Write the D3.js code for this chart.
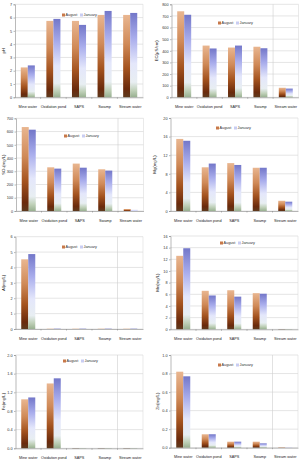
<!DOCTYPE html>
<html><head><meta charset="utf-8">
<script src="https://cdn.jsdelivr.net/npm/d3@7"></script>
<style>body{margin:0;background:#fff}svg{display:block}text{font-family:"Liberation Sans",Arial,sans-serif}</style>
</head><body>
<script>
const categories = ["Mine water","Oxidation pond","SAPS","Swamp","Stream water"];
const seriesNames = ["August","January"];

const phAugust  = [2.25, 5.75, 5.75, 6.2, 6.2];
const phJanuary = [2.4, 5.9, 5.45, 6.5, 6.35];
const phTicks   = [0,1,2,3,4,5,6,7];

const ecAugust  = [740, 445, 428, 435, 82];
const ecJanuary = [710, 420, 445, 422, 75];
const ecTicks   = [0,100,200,300,400,500,600,700,800];

const so4August  = [634, 330, 358, 315, 15];
const so4January = [614, 320, 327, 305, 8];
const so4Ticks   = [0,100,200,300,400,500,600,700];

const mgAugust  = [15.5, 9.4, 10.3, 9.3, 2.2];
const mgJanuary = [15.1, 10.2, 9.9, 9.3, 2.0];
const mgTicks   = [0,4,8,12,16,20];

const alAugust  = [4.53, 0.02, 0.02, 0.02, 0.02];
const alJanuary = [4.87, 0.02, 0.02, 0.02, 0.02];
const alTicks   = [0,1,2,3,4,5,6];

const mnAugust  = [12.6, 6.6, 6.7, 6.2, 0.05];
const mnJanuary = [13.9, 5.8, 5.6, 6.1, 0.05];
const mnTicks   = [0,2,4,6,8,10,12,14,16];

const feAugust  = [1.05, 1.39, 0.005, 0.005, 0.005];
const feJanuary = [1.09, 1.5, 0.005, 0.005, 0.005];
const feTicks   = [0,0.4,0.8,1.2,1.6,2.0];

const znAugust  = [0.82, 0.145, 0.065, 0.065, 0.004];
const znJanuary = [0.77, 0.145, 0.065, 0.047, 0.004];
const znTicks   = [0,0.2,0.4,0.6,0.8,1.0];

const panels = [
  {title:"pH",        aug:phAugust,  jan:phJanuary,  ticks:phTicks,  fmt:d3.format("d"),   box:[15,143,4.3,97.3],     tx:5,   legend:[62,15],   div:false},
  {title:"EC(µS/cm)", aug:ecAugust,  jan:ecJanuary,  ticks:ecTicks,  fmt:d3.format("d"),   box:[171.5,298.5,4.3,97.3], tx:158, legend:[218,23], div:true},
  {title:"SO\u2084(mg/L)", aug:so4August, jan:so4January, ticks:so4Ticks, fmt:d3.format("d"), box:[16,143.5,118.3,211], tx:5, legend:[64,136], div:true},
  {title:"Mg(mg/L)",  aug:mgAugust,  jan:mgJanuary,  ticks:mgTicks,  fmt:d3.format("d"),   box:[170.5,298,118,211],   tx:156, legend:[216,128], div:false},
  {title:"Al(mg/L)",  aug:alAugust,  jan:alJanuary,  ticks:alTicks,  fmt:d3.format("d"),   box:[15.5,143,236.7,329],  tx:5,   legend:[62,247],  div:true},
  {title:"Mn(mg/L)",  aug:mnAugust,  jan:mnJanuary,  ticks:mnTicks,  fmt:d3.format("d"),   box:[170.5,298,236,329.3], tx:159, legend:[220,243], div:false},
  {title:"Fe(mg/L)",  aug:feAugust,  jan:feJanuary,  ticks:feTicks,  fmt:d3.format(".1f"), box:[15.5,143,355,448.3],  tx:5,   legend:[63,361],  div:true},
  {title:"Zn(mg/L)",  aug:znAugust,  jan:znJanuary,  ticks:znTicks,  fmt:d3.format(".1f"), box:[170.5,298,355,447.7], tx:159, legend:[218,365], div:true}
];

const svg = d3.select("body").append("svg").attr("width",301).attr("height",462);
const defs = svg.append("defs");
const gA = defs.append("linearGradient").attr("id","gAug").attr("x1",0).attr("y1",0).attr("x2",0).attr("y2",1);
[[0,"#e9b690"],[0.35,"#d08a58"],[0.65,"#a4531f"],[0.9,"#6a2a0c"],[1,"#5e3a1e"]].forEach(s=>gA.append("stop").attr("offset",s[0]).attr("stop-color",s[1]));
const gJ = defs.append("linearGradient").attr("id","gJan").attr("x1",0).attr("y1",0).attr("x2",0).attr("y2",1);
[[0,"#7377c9"],[0.3,"#a9adec"],[0.6,"#e4e7fb"],[0.82,"#e8eef2"],[0.92,"#bfd0b8"],[1,"#98b090"]].forEach(s=>gJ.append("stop").attr("offset",s[0]).attr("stop-color",s[1]));

panels.forEach(p=>{
  const [l,r,t,b] = p.box;
  const g = svg.append("g");
  const x = d3.scaleBand().domain(categories).range([l,r]).paddingInner(0.45).paddingOuter(0.225);
  const xs = d3.scaleBand().domain(seriesNames).range([0,x.bandwidth()]);
  const y = d3.scaleLinear().domain([p.ticks[0], p.ticks[p.ticks.length-1]]).range([b,t]);

  g.selectAll(".grid").data(p.ticks).join("line")
    .attr("x1",l).attr("x2",r).attr("y1",d=>y(d)).attr("y2",d=>y(d))
    .attr("stroke","#d4d4d4").attr("stroke-width",0.6);
  g.append("line").attr("x1",r).attr("x2",r).attr("y1",t).attr("y2",b).attr("stroke","#dcdcdc").attr("stroke-width",0.6);
  if(p.div){
    const xd = x("Stream water") - x.step()*x.paddingInner()/2;
    g.append("line").attr("x1",xd).attr("x2",xd).attr("y1",t).attr("y2",b).attr("stroke","#cfcfcf").attr("stroke-width",0.6);
  }

  const rows = categories.map((c,i)=>({c, vals:[{s:"August",v:p.aug[i]},{s:"January",v:p.jan[i]}]}));
  const cg = g.selectAll(".cat").data(rows).join("g").attr("transform",d=>`translate(${x(d.c)},0)`);
  cg.selectAll("rect").data(d=>d.vals).join("rect")
    .attr("x",d=>xs(d.s)).attr("width",xs.bandwidth())
    .attr("y",d=>y(d.v)).attr("height",d=>Math.max(0.3,y(0)-y(d.v)))
    .attr("fill",d=>d.s==="August"?"url(#gAug)":"url(#gJan)");

  const ya = d3.axisLeft(y).tickValues(p.ticks).tickFormat(p.fmt).tickSize(1.5).tickPadding(1.5);
  const yg = g.append("g").attr("transform",`translate(${l},0)`).call(ya);
  yg.select(".domain").attr("stroke","#8c8c8c").attr("stroke-width",0.6);
  yg.selectAll(".tick line").attr("stroke","#8c8c8c").attr("stroke-width",0.6);
  yg.selectAll("text").attr("font-size",3.8).attr("fill","#333");

  const xa = d3.axisBottom(x).tickSize(0).tickPadding(8);
  const xg = g.append("g").attr("transform",`translate(0,${b})`).call(xa);
  xg.select(".domain").attr("stroke","#8c8c8c").attr("stroke-width",0.6);
  xg.selectAll("text").attr("font-size",3.8).attr("fill","#222");
  g.selectAll(".xt").data(categories.slice(1)).join("line")
    .attr("x1",d=>x(d)-x.step()*x.paddingInner()/2).attr("x2",d=>x(d)-x.step()*x.paddingInner()/2)
    .attr("y1",b).attr("y2",b+1.5).attr("stroke","#8c8c8c").attr("stroke-width",0.6);

  g.append("text").attr("transform",`translate(${p.tx},${(t+b)/2}) rotate(-90)`)
    .attr("text-anchor","middle").attr("font-size",4.3).attr("fill","#222").text(p.title);

  const [lx,ly] = p.legend;
  const lg = g.append("g").attr("transform",`translate(${lx},${ly})`);
  lg.append("rect").attr("x",0).attr("y",-1.5).attr("width",3).attr("height",3).attr("fill","#c8784a");
  lg.append("text").attr("x",3.5).attr("y",1.4).attr("font-size",3.8).attr("fill","#333").text(seriesNames[0]);
  lg.append("rect").attr("x",18).attr("y",-1.5).attr("width",3).attr("height",3).attr("fill","#c9cdf2");
  lg.append("text").attr("x",21.5).attr("y",1.4).attr("font-size",3.8).attr("fill","#333").text(seriesNames[1]);
});
</script>
</body></html>
